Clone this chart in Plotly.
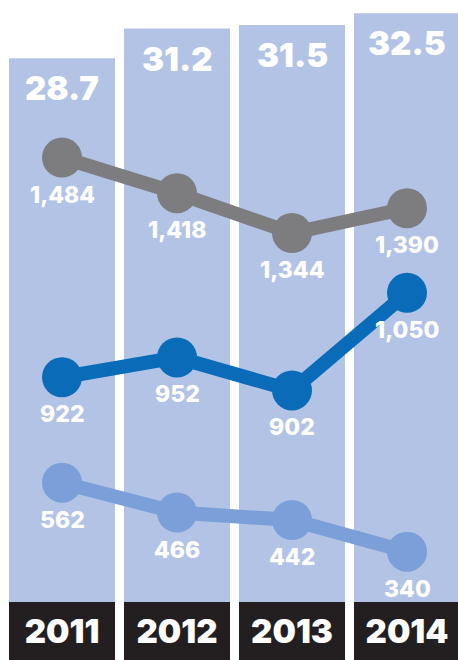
import plotly.graph_objects as go

# ---- data ----
years = ["2011", "2012", "2013", "2014"]
bar_values = [28.7, 31.2, 31.5, 32.5]
gray_values = [1484, 1418, 1344, 1390]
blue_values = [922, 952, 902, 1050]
light_values = [562, 466, 442, 340]

# ---- styling ----
BAR_COLOR = "#b2c3e5"
STRIP_COLOR = "#231f20"
GRAY = "#7d7d80"
BLUE = "#0a6cb8"
LIGHT = "#7b9fd9"

FIG_W, FIG_H = 458, 660
# value axis for the columns (truncated, as in the infographic)
BAR_AXIS = [(397.7 - FIG_H) / 11.83, 397.7 / 11.83]
BAR_FLOOR = -17.27           # where the columns start
STRIP_BASE = BAR_AXIS[0]
# each line series sits on its own (hidden) scale, as in the infographic
GRAY_AXIS = [1409 - (FIG_H - 198) / 0.5393, 1409 + 198 / 0.5393]
BLUE_AXIS = [956.5 - (FIG_H - 354.5) / 0.6594, 956.5 + 354.5 / 0.6594]
LIGHT_AXIS = [452.5 - (FIG_H - 516.75) / 0.3109, 452.5 + 516.75 / 0.3109]
X_START = -62 / 115

fig = go.Figure()

# dark strip under each column (holds the year labels)
fig.add_trace(go.Bar(
    x=years, y=[BAR_FLOOR - STRIP_BASE] * len(years), base=STRIP_BASE,
    marker=dict(color=STRIP_COLOR, line=dict(width=0)),
    text=years, textposition="inside", insidetextanchor="middle",
    textfont=dict(family="Inter", size=33, color="white", weight=900),
    textangle=0, hoverinfo="skip", yaxis="y"))

# light columns
fig.add_trace(go.Bar(
    x=years, y=[v - BAR_FLOOR for v in bar_values], base=BAR_FLOOR,
    marker=dict(color=BAR_COLOR, line=dict(width=0)),
    hoverinfo="skip", yaxis="y"))

series = [(gray_values, GRAY, "y2"), (blue_values, BLUE, "y3"),
          (light_values, LIGHT, "y4")]
for vals, col, ax in series:
    fig.add_trace(go.Scatter(
        x=years, y=vals, mode="lines+markers", yaxis=ax,
        line=dict(color=col, width=14),
        marker=dict(color=col, size=40), hoverinfo="skip"))

annotations = []
for i, v in enumerate(bar_values):
    annotations.append(dict(
        x=i, y=v, xref="x", yref="y", text=f"{v:.1f}", showarrow=False,
        yanchor="middle", yshift=-30,
        font=dict(family="Inter", size=33, color="white", weight=900)))
for vals, col, ax in series:
    for i, v in enumerate(vals):
        annotations.append(dict(
            x=i, y=v, xref="x", yref=ax, text=f"{v:,}", showarrow=False,
            yanchor="middle", yshift=-37,
            font=dict(family="Inter", size=23, color="white", weight=800)))

hidden = dict(visible=False, fixedrange=True)
fig.update_layout(
    width=FIG_W, height=FIG_H,
    margin=dict(l=0, r=0, t=0, b=0),
    paper_bgcolor="white", plot_bgcolor="white",
    showlegend=False, barmode="overlay", bargap=0.078,
    hovermode=False,
    xaxis=dict(type="category", range=[X_START, X_START + FIG_W / 115],
               **hidden),
    yaxis=dict(range=BAR_AXIS, **hidden),
    yaxis2=dict(range=GRAY_AXIS, overlaying="y", **hidden),
    yaxis3=dict(range=BLUE_AXIS, overlaying="y", **hidden),
    yaxis4=dict(range=LIGHT_AXIS, overlaying="y", **hidden),
    annotations=annotations,
)

fig.write_html(
    "out.html",
    config={"displayModeBar": False, "staticPlot": True},
    post_script="document.body.style.margin='0';"
                "document.body.style.overflow='hidden';",
)
